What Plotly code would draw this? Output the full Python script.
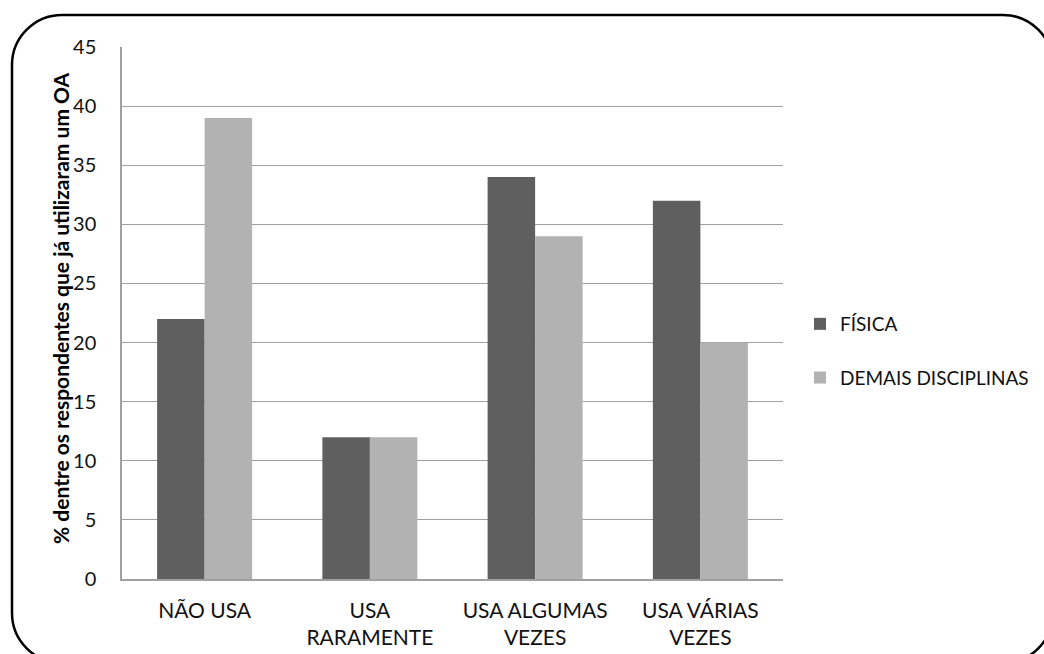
import plotly.graph_objects as go

categories = ["NÃO USA", "USA<br>RARAMENTE", "USA ALGUMAS<br>VEZES", "USA VÁRIAS<br>VEZES"]
fisica = [22, 12, 34, 32]
demais = [39, 12, 29, 20]
y_ticks = [0, 5, 10, 15, 20, 25, 30, 35, 40, 45]
series_names = ["FÍSICA", "DEMAIS DISCIPLINAS"]
y_title = "% dentre os respondentes que já utilizaram um OA"

W, H = 1044, 654
L, R, T, B = 122, 783, 47, 579  # plot area in pixels
FONT = "Lato"


def px_x(x):
    return (x - L) / (R - L)


def px_y(y):
    return (B - y) / (B - T)


fig = go.Figure()
fig.add_trace(go.Bar(x=categories, y=fisica, name=series_names[0],
                     marker=dict(color="#5f5f5f", line=dict(width=0)),
                     legendgroup="a"))
fig.add_trace(go.Bar(x=categories, y=demais, name=series_names[1],
                     marker=dict(color="#b2b2b2", line=dict(width=0)),
                     legendgroup="b"))

# rounded outer frame
x0, y0, x1, y1, r = 12, 15, 1053, 663, 50
k = 0.45
pts = [
    ("M", [(x0 + r, y0)]),
    ("L", [(x1 - r, y0)]),
    ("C", [(x1 - r * k, y0), (x1, y0 + r * k), (x1, y0 + r)]),
    ("L", [(x1, y1 - r)]),
    ("C", [(x1, y1 - r * k), (x1 - r * k, y1), (x1 - r, y1)]),
    ("L", [(x0 + r, y1)]),
    ("C", [(x0 + r * k, y1), (x0, y1 - r * k), (x0, y1 - r)]),
    ("L", [(x0, y0 + r)]),
    ("C", [(x0, y0 + r * k), (x0 + r * k, y0), (x0 + r, y0)]),
]
path = ""
for cmd, ps in pts:
    path += cmd + " " + " ".join(f"{px_x(a):.5f},{px_y(b):.5f}" for a, b in ps) + " "
path += "Z"
fig.add_shape(type="path", path=path, xref="paper", yref="paper",
              line=dict(color="black", width=2.5), layer="above")

fig.add_annotation(text=f"<b>{y_title}</b>", textangle=-90,
                   x=px_x(60), y=px_y(308), xref="paper", yref="paper",
                   xanchor="center", yanchor="middle",
                   showarrow=False, font=dict(family=FONT, size=21, color="black"))

fig.update_layout(
    width=W, height=H,
    margin=dict(l=L, r=W - R, t=T, b=H - B, autoexpand=False),
    paper_bgcolor="white", plot_bgcolor="white",
    barmode="group", bargap=0.425, bargroupgap=0,
    font=dict(family=FONT, size=20, color="#111111"),
    showlegend=True,
    legend=dict(x=px_x(800), y=px_y(305), xanchor="left", yanchor="top",
                tracegroupgap=26, font=dict(size=19), itemwidth=30,
                bgcolor="rgba(0,0,0,0)"),
)
fig.update_xaxes(showline=True, linecolor="#a0a0a0", linewidth=1.5,
                 showgrid=False, ticks="", ticklabelstandoff=12,
                 tickfont=dict(size=21))
fig.update_yaxes(range=[0, 45], tickvals=y_ticks, showgrid=True,
                 gridcolor="#a0a0a0", gridwidth=1, showline=True,
                 linecolor="#a0a0a0", linewidth=1.5, zeroline=False,
                 ticks="", ticklabelstandoff=20)

fig.write_html("out.html")
